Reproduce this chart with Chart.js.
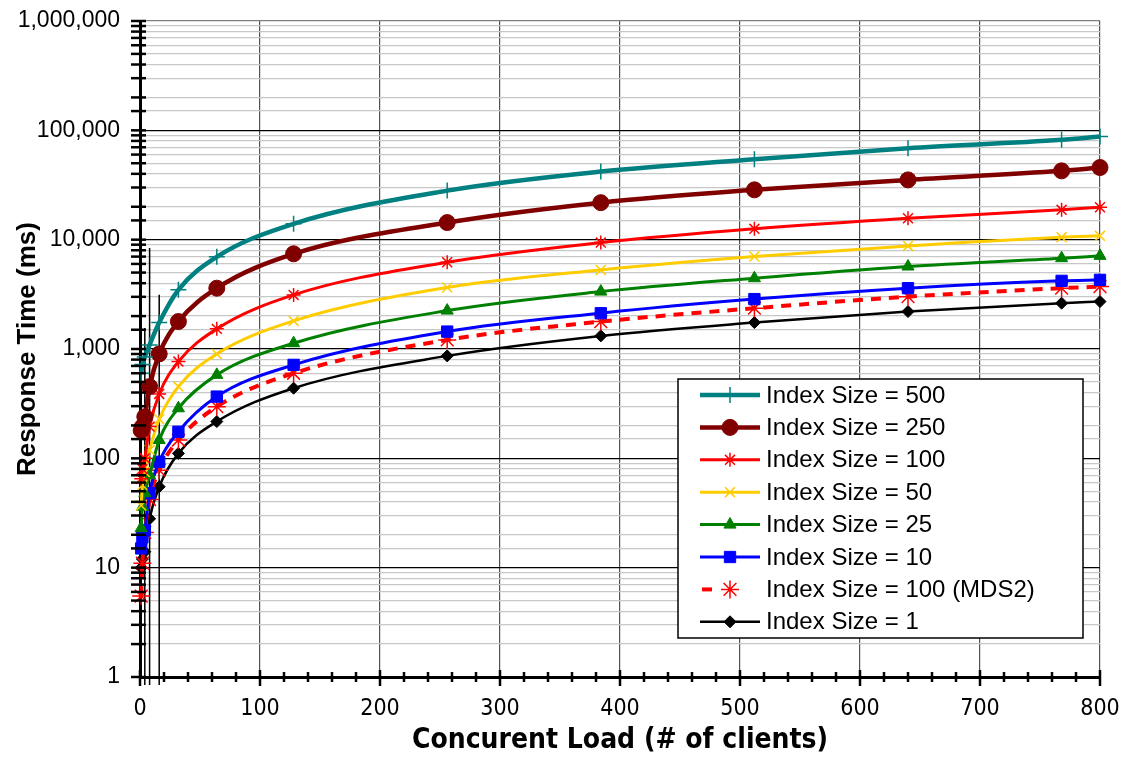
<!DOCTYPE html>
<html lang="en">
<head>
<meta charset="UTF-8">
<title>Response Time vs Concurent Load</title>
<script src="https://cdn.jsdelivr.net/npm/chart.js"></script>
<style>
    html, body { margin: 0; padding: 0; background: #fff; }
    #wrap { width: 1127px; height: 760px; }
</style>
</head>
<body>
<div id="wrap"><canvas id="chart" width="1127" height="760"></canvas></div>
<script>
    // concurrent clients
    const loads = [1, 2, 4, 8, 16, 32, 64, 128, 256, 384, 512, 640, 768, 800];

    // response time (ms) per index size
    const size500 = [600, 720, 843, 1090, 1743, 3475, 6960, 13960, 28100, 41970, 54500, 68700, 81900, 87800];
    const size250 = [180, 195, 240, 453, 902, 1782, 3600, 7420, 14330, 21800, 28550, 35200, 42600, 45700];
    const size100 = [65, 80, 100, 195, 388, 767, 1528, 3125, 6220, 9400, 12560, 15700, 18750, 19800];
    const size50 = [37, 57, 75, 119, 228, 453, 902, 1807, 3650, 5290, 7010, 8770, 10540, 10840];
    const size25 = [23, 36, 48, 70, 147, 287, 580, 1130, 2245, 3350, 4440, 5680, 6770, 7110];
    const size10 = [15, 19, 22, 48, 93, 175, 367, 716, 1443, 2125, 2860, 3600, 4200, 4290];
    const size100mds2 = [5.5, 11, 21, 42, 78, 147, 297, 600, 1210, 1780, 2360, 3010, 3600, 3720];
    const size1 = [10, 12, 14, 28, 55, 111, 217, 438, 865, 1318, 1745, 2200, 2625, 2715];

    // upper ends of the error bars on the 500 series (lower ends fall off the axis)
    const errLoads = [4, 8, 16];
    const errTops = [1560, 8400, 3140];

    const seriesLabels = ["Index Size = 500", "Index Size = 250", "Index Size = 100", "Index Size = 50",
        "Index Size = 25", "Index Size = 10", "Index Size = 100 (MDS2)", "Index Size = 1"];

    const xTickLabels = [0, 100, 200, 300, 400, 500, 600, 700, 800];
    const yTickLabels = [1, 10, 100, 1000, 10000, 100000, 1000000];

    const narrow = "'DejaVu Sans Condensed', 'Liberation Sans Narrow', 'Liberation Sans', Arial";

    const pts = arr => arr.map((v, i) => ({ x: loads[i], y: v }));
    const isPow10 = v => yTickLabels.includes(v);

    function series(i, data, color, width, style, radius, pw, extra) {
        return Object.assign({
            label: seriesLabels[i],
            data: pts(data),
            borderColor: color,
            backgroundColor: color,
            borderWidth: width,
            pointStyle: style,
            pointRadius: radius,
            pointBorderWidth: pw,
            pointBorderColor: color,
            pointBackgroundColor: color,
            cubicInterpolationMode: "monotone",
            clip: false
        }, extra || {});
    }

    const datasets = [
        series(0, size500, "#008080", 4.5, "cross", 8, 1.5),
        series(1, size250, "#800000", 4.5, "circle", 8, 1),
        series(2, size100, "#ff0000", 3, "star", 7, 1.5),
        series(3, size50, "#ffcc00", 3, "crossRot", 7, 1.5),
        series(4, size25, "#008000", 3, "triangle", 7, 1),
        series(5, size10, "#0000ff", 3, "rect", 8, 1),
        series(6, size100mds2, "#ff0000", 4, "star", 9, 1.5, { borderDash: [10, 8] }),
        series(7, size1, "#000000", 2.5, "rectRot", 6, 1)
    ];

    // error bars, axis tick marks, y title and the boxed legend
    const extras = {
        id: "extras",
        beforeDatasetsDraw(chart) {
            const { ctx, scales: { x, y } } = chart;
            ctx.save();
            ctx.strokeStyle = "#000";
            ctx.lineWidth = 1.5;
            errLoads.forEach((l, i) => {
                const px = x.getPixelForValue(l);
                ctx.beginPath();
                ctx.moveTo(px, y.getPixelForValue(errTops[i]));
                ctx.lineTo(px, y.bottom + 8);
                ctx.stroke();
            });
            ctx.restore();
        },
        afterDraw(chart) {
            const { ctx, scales: { x, y } } = chart;
            const h = Chart.helpers;
            ctx.save();
            ctx.strokeStyle = "#000";
            ctx.lineWidth = 2.5;
            y.ticks.forEach(t => {
                const py = y.getPixelForValue(t.value);
                ctx.beginPath();
                ctx.moveTo(y.right - 9, py);
                ctx.lineTo(y.right + 6, py);
                ctx.stroke();
            });
            x.ticks.forEach(t => {
                const px = x.getPixelForValue(t.value);
                const major = t.value % 100 === 0;
                ctx.beginPath();
                ctx.moveTo(px, x.top - (major ? 7 : 5));
                ctx.lineTo(px, x.top + (major ? 9 : 5));
                ctx.stroke();
            });

            // y title
            ctx.fillStyle = "#000";
            ctx.font = "bold 26px 'Liberation Sans', Arial, sans-serif";
            ctx.textAlign = "center";
            ctx.textBaseline = "middle";
            ctx.translate(28, (y.top + y.bottom) / 2);
            ctx.rotate(-Math.PI / 2);
            ctx.fillText("Response Time (ms)", 0, 0);
            ctx.restore();

            // legend
            const bx = 678, by = 379, bw = 405, bh = 259;
            ctx.save();
            ctx.fillStyle = "#fff";
            ctx.fillRect(bx, by, bw, bh);
            ctx.strokeStyle = "#000";
            ctx.lineWidth = 1.5;
            ctx.strokeRect(bx, by, bw, bh);
            ctx.font = "24px 'Liberation Sans', Arial, sans-serif";
            ctx.textBaseline = "middle";
            chart.data.datasets.forEach((ds, i) => {
                const ry = by + 16 + i * 32.4;
                ctx.strokeStyle = ds.borderColor;
                ctx.lineWidth = ds.borderWidth;
                ctx.setLineDash(ds.borderDash ? [10, 50] : []);
                ctx.beginPath();
                ctx.moveTo(ds.borderDash ? 702 : 700, ry);
                ctx.lineTo(760, ry);
                ctx.stroke();
                ctx.setLineDash([]);
                ctx.fillStyle = ds.pointBackgroundColor;
                ctx.lineWidth = ds.pointBorderWidth;
                h.drawPoint(ctx, {
                    pointStyle: ds.pointStyle,
                    radius: ds.pointRadius,
                    borderWidth: ds.pointBorderWidth,
                    rotation: 0
                }, 730, ry);
                ctx.fillStyle = "#000";
                ctx.fillText(ds.label, 766, ry + 1);
            });
            ctx.restore();
        }
    };

    new Chart(document.getElementById("chart").getContext("2d"), {
        type: "line",
        data: { datasets },
        plugins: [extras],
        options: {
            responsive: false,
            animation: false,
            layout: { padding: { top: 21, right: 27, bottom: 0, left: 0 } },
            plugins: {
                legend: { display: false },
                tooltip: { enabled: false }
            },
            scales: {
                x: {
                    type: "linear",
                    min: 0,
                    max: 800,
                    afterFit: s => { s.height = 83; s.paddingLeft = 0; s.paddingRight = 0; },
                    ticks: {
                        stepSize: 20,
                        autoSkip: false,
                        maxRotation: 0,
                        padding: 18,
                        color: "#000",
                        font: { family: narrow, size: 23 },
                        callback: v => xTickLabels.includes(v) ? String(v) : ""
                    },
                    grid: {
                        drawTicks: false,
                        color: c => (c.tick && c.tick.value % 100 === 0) ? "#505050" : "rgba(0,0,0,0)",
                        lineWidth: 1.2
                    },
                    border: { color: "#000", width: 3 },
                    title: {
                        display: true,
                        text: "Concurent Load (# of clients)",
                        color: "#000",
                        font: { family: narrow, size: 28, weight: "bold" },
                        padding: { top: 0, bottom: 2 }
                    }
                },
                y: {
                    type: "logarithmic",
                    min: 1,
                    max: 1000000,
                    afterFit: s => { s.width = 140; s.paddingTop = 0; s.paddingBottom = 0; },
                    ticks: {
                        autoSkip: false,
                        padding: 20,
                        color: "#000",
                        font: { family: "'Liberation Sans', Arial", size: 23 },
                        callback: v => isPow10(v) ? v.toLocaleString("en-US") : ""
                    },
                    grid: {
                        drawTicks: false,
                        color: c => {
                            if (!c.tick) return "#c8c8c8";
                            if (c.tick.value === 1000000) return "#808080";
                            return isPow10(c.tick.value) ? "#000" : "#c8c8c8";
                        },
                        lineWidth: c => (c.tick && isPow10(c.tick.value)) ? 1.3 : 1.2
                    },
                    border: { color: "#000", width: 3 }
                }
            }
        }
    });
</script>
</body>
</html>
